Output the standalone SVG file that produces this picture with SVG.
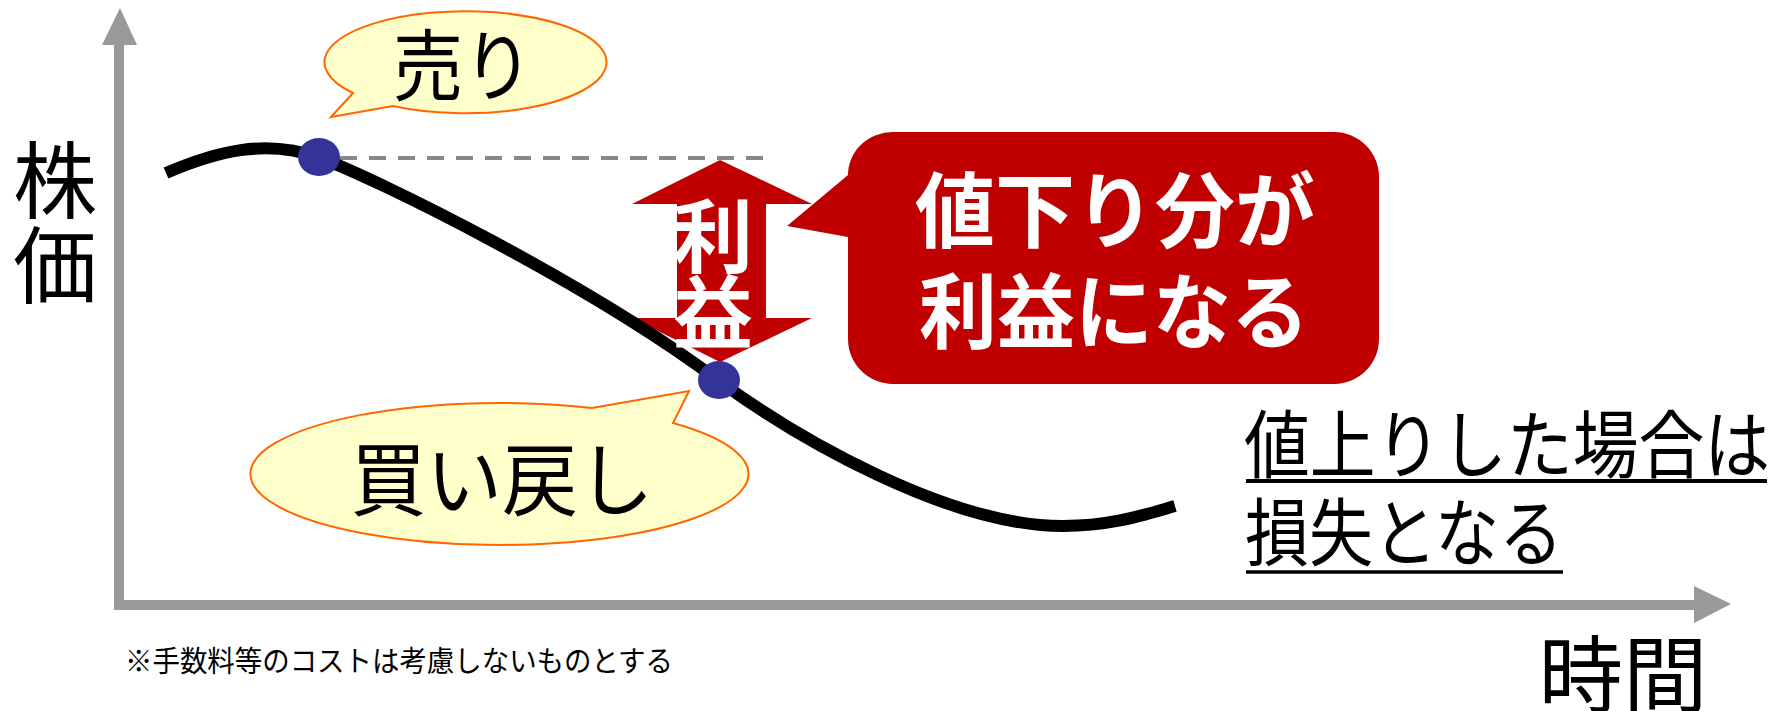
<svg xmlns="http://www.w3.org/2000/svg" width="1773" height="711" viewBox="0 0 1773 711">
<style>
.jp{font-family:"Noto Sans CJK JP","Noto Sans CJK SC",sans-serif;}
.blk{fill:#000000;}
.wht{fill:#ffffff;font-weight:bold;}
.axis{stroke:#999999;stroke-width:10;fill:none;}
.axhead{fill:#999999;}
.dot{fill:#333399;}
.bubble{fill:#FFFFCC;stroke:#FF6600;stroke-width:2;}
.red{fill:#C00000;}
.ul{stroke:#000000;}
</style>
<rect width="1773" height="711" fill="#ffffff"/>
<g id="axes">
  <line class="axis" x1="119" y1="44" x2="119" y2="609"/>
  <polygon class="axhead" points="120,8 137,45 102,45"/>
  <line class="axis" x1="114" y1="605" x2="1696" y2="605"/>
  <polygon class="axhead" points="1731,604 1694,586 1694,623"/>
</g>
<g id="connectors">
  <line x1="340" y1="158" x2="767" y2="158" stroke="#888888" stroke-width="4" stroke-dasharray="17 12"/>
</g>
<g id="profit-arrow">
  <polygon class="red" points="720,160 812,204 766,204 766,318 812,318 720,362 632,318 677,318 677,204 632,204"/>
</g>
<g id="price-curve">
  <path d="M166,173 C215,152 265,138 320,158 C375,178 590,284 719,381 C800,440 950,526 1063,526 C1110,526 1140,516 1175,506" fill="none" stroke="#000000" stroke-width="12"/>
</g>
<g id="profit-label">
  <text class="jp wht" x="713" y="266" font-size="80" text-anchor="middle">利</text>
  <text class="jp wht" x="713" y="342" font-size="80" text-anchor="middle">益</text>
</g>
<g id="sell-dot"><ellipse class="dot" cx="319" cy="157" rx="21" ry="19"/></g>
<g id="buy-dot"><ellipse class="dot" cx="719" cy="380" rx="21" ry="19"/></g>
<g id="sell-bubble">
  <path class="bubble" d="M393,106 A141,51 0 1 0 353,93 L331,117 Z"/>
  <text class="jp blk" x="463" y="95" font-size="78" text-anchor="middle" textLength="140" lengthAdjust="spacingAndGlyphs">売り</text>
</g>
<g id="buy-bubble">
  <path class="bubble" d="M673,423 A249,71 0 1 1 592,408 L689,391 Z"/>
  <text class="jp blk" x="502" y="509" font-size="80" text-anchor="middle" textLength="303" lengthAdjust="spacingAndGlyphs">買い戻し</text>
</g>
<g id="callout">
  <path class="red" d="M893,132 H1334 A45,45 0 0 1 1379,177 V339 A45,45 0 0 1 1334,384 H893 A45,45 0 0 1 848,339 V237 L787,226 L848,175 A45,43 0 0 1 893,132 Z"/>
  <text class="jp wht" x="1115" y="241" font-size="82" text-anchor="middle" textLength="400" lengthAdjust="spacingAndGlyphs">値下り分が</text>
  <text class="jp wht" x="1114" y="342" font-size="82" text-anchor="middle" textLength="390" lengthAdjust="spacingAndGlyphs">利益になる</text>
</g>
<g id="y-label">
  <text class="jp blk" x="55" y="212" font-size="84" text-anchor="middle">株</text>
  <text class="jp blk" x="55" y="297" font-size="84" text-anchor="middle">価</text>
</g>
<g id="x-label">
  <text class="jp blk" x="1623" y="706" font-size="84" text-anchor="middle" textLength="169" lengthAdjust="spacingAndGlyphs">時間</text>
</g>
<g id="loss-note">
  <text class="jp blk" x="1507" y="472" font-size="74" text-anchor="middle" textLength="526" lengthAdjust="spacingAndGlyphs">値上りした場合は</text>
  <line class="ul" x1="1246" y1="481" x2="1767" y2="481" stroke-width="4"/>
  <text class="jp blk" x="1404" y="560" font-size="74" text-anchor="middle" textLength="318" lengthAdjust="spacingAndGlyphs">損失となる</text>
  <line class="ul" x1="1246" y1="572" x2="1563" y2="572" stroke-width="3.5"/>
</g>
<g id="footnote">
  <text class="jp blk" x="399" y="672" font-size="29" text-anchor="middle" textLength="548" lengthAdjust="spacingAndGlyphs">※手数料等のコストは考慮しないものとする</text>
</g>
</svg>
